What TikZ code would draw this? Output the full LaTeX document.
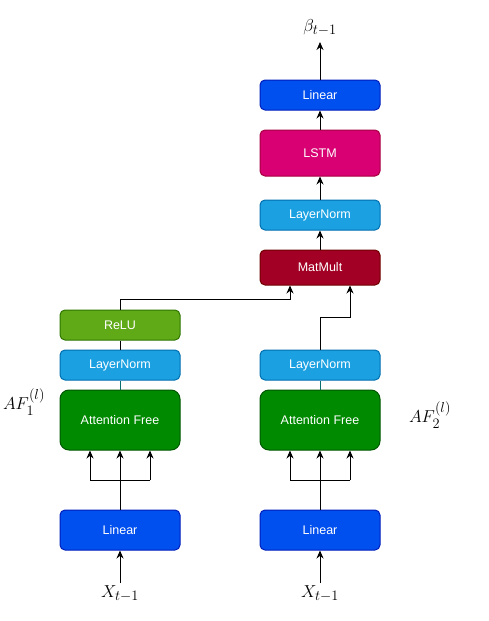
\documentclass[tikz,border=0pt]{standalone}
\usepackage{amsmath}
\usepackage{fontspec}
\setmainfont{Liberation Sans}
\usepackage{tikz}
\usepackage{xcolor}
\usetikzlibrary{arrows.meta}
\definecolor{linear-fill}{HTML}{0050EF}
\definecolor{linear-draw}{HTML}{001DBC}
\definecolor{lstm-fill}{HTML}{D80073}
\definecolor{lstm-draw}{HTML}{A50040}
\definecolor{norm-fill}{HTML}{1BA1E2}
\definecolor{norm-draw}{HTML}{006EAF}
\definecolor{mult-fill}{HTML}{A20025}
\definecolor{mult-draw}{HTML}{6F0000}
\definecolor{relu-fill}{HTML}{60A917}
\definecolor{relu-draw}{HTML}{2D7600}
\definecolor{attn-fill}{HTML}{008A00}
\definecolor{attn-draw}{HTML}{005700}
\definecolor{attn-link}{HTML}{0B6E6E}
\tikzset{
    layer-box/.style = {rectangle, rounded corners=5pt, line width=1pt, minimum width=120pt, minimum height=30pt, text=white, font=\fontsize{12.5}{14}\selectfont, inner sep=0pt},
    linear-box/.style = {layer-box, fill=linear-fill, draw=linear-draw},
    lstm-box/.style = {layer-box, fill=lstm-fill, draw=lstm-draw, minimum height=46pt},
    norm-box/.style = {layer-box, fill=norm-fill, draw=norm-draw},
    mult-box/.style = {layer-box, fill=mult-fill, draw=mult-draw, minimum height=35pt},
    relu-box/.style = {layer-box, fill=relu-fill, draw=relu-draw},
    attn-box/.style = {layer-box, fill=attn-fill, draw=attn-draw, minimum height=60pt, rounded corners=9pt},
    math-label/.style = {font=\fontsize{19}{22}\selectfont, inner sep=2pt},
    arrow-line/.style = {line width=1pt, -{Stealth[length=8pt,width=7pt]}},
    plain-line/.style = {line width=1pt},
}

\begin{document}
\begin{tikzpicture}[x=1pt, y=-1pt]
\useasboundingbox (0,0) rectangle (489,621);
% output branch
\node [linear-box] (out-linear) at (320,95) {Linear};
\node [lstm-box] (lstm) at (320,153) {LSTM};
\node [norm-box] (out-norm) at (320,215) {LayerNorm};
\node [mult-box] (matmult) at (320,267.5) {MatMult};
\node [math-label, anchor=south, inner ysep=6pt] (beta) at (320,42) {$\beta_{t-1}$};

% left branch
\node [relu-box] (relu) at (120,325) {ReLU};
\node [norm-box] (norm-a) at (120,365) {LayerNorm};
\node [attn-box] (attn-a) at (120,420) {Attention Free};
\node [linear-box, minimum height=40pt] (linear-a) at (120,530) {Linear};
\node [math-label, anchor=north] (x-a) at (120,583) {$X_{t-1}$};
\node [math-label] (af-a) at (24,402) {$AF_1^{(l)}$};
\coordinate (fork-a) at (120,480);

% right branch
\node [norm-box] (norm-b) at (320,365) {LayerNorm};
\node [attn-box] (attn-b) at (320,420) {Attention Free};
\node [linear-box, minimum height=40pt] (linear-b) at (320,530) {Linear};
\node [math-label, anchor=north] (x-b) at (320,583) {$X_{t-1}$};
\node [math-label] (af-b) at (430,415) {$AF_2^{(l)}$};
\coordinate (fork-b) at (320,480);

% inputs and forks
\draw [arrow-line] (x-a) -- (linear-a);
\draw [arrow-line] (x-b) -- (linear-b);
\draw [plain-line] (linear-a) -- (fork-a);
\draw [plain-line] (linear-b) -- (fork-b);
\draw [plain-line] ([xshift=-30pt]fork-a) -- ([xshift=30pt]fork-a);
\draw [plain-line] ([xshift=-30pt]fork-b) -- ([xshift=30pt]fork-b);
\foreach \dx in {-30,0,30} {
    \draw [arrow-line] ([xshift=\dx pt]fork-a) -- ([xshift=\dx pt]attn-a.south);
    \draw [arrow-line] ([xshift=\dx pt]fork-b) -- ([xshift=\dx pt]attn-b.south);
}

% branch links
\draw [plain-line, attn-link] (attn-a) -- (norm-a);
\draw [plain-line, attn-link] (attn-b) -- (norm-b);
\draw [plain-line] (norm-a) -- (relu);
\draw [arrow-line] (relu.north) -- ++(0,-10) -| ([xshift=-30pt]matmult.south);
\draw [arrow-line] (norm-b.north) -- ++(0,-32) -| ([xshift=30pt]matmult.south);

% output links
\draw [arrow-line] (matmult) -- (out-norm);
\draw [arrow-line] (out-norm) -- (lstm);
\draw [arrow-line] (lstm) -- (out-linear);
\draw [arrow-line] (out-linear) -- (beta);
\end{tikzpicture}
\end{document}
